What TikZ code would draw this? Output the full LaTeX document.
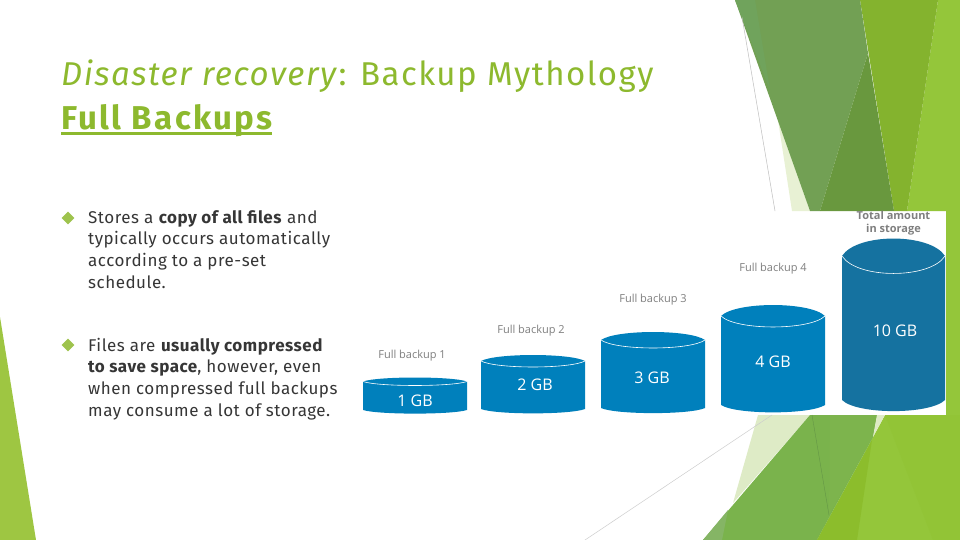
\documentclass[tikz,border=0pt]{standalone}
\usepackage{fontspec}
\setmainfont[LetterSpace=3]{Fira Sans}
\newfontfamily\titlefont[LetterSpace=4.5]{Fira Sans}
\newfontfamily\titleboldfont[LetterSpace=7.2]{Fira Sans}
\newfontfamily\labelfont{Open Sans}
\usetikzlibrary{shapes.geometric}
\definecolor{titlegreen}{HTML}{8DB92E}
\definecolor{bodygrey}{HTML}{363636}
\definecolor{labelgrey}{HTML}{7F7F7F}
\definecolor{cylblue}{HTML}{0080BC}
\definecolor{cyldark}{HTML}{1572A0}
\tikzset{
  x=1pt,y=-1pt,
  titletext/.style={anchor=base west,inner sep=0pt,text=titlegreen,font=\titlefont\fontsize{33}{36}\selectfont},
  titlebold/.style={anchor=base west,inner sep=0pt,text=titlegreen,font=\titleboldfont\bfseries\fontsize{33}{36}\selectfont},
  bodytext/.style={anchor=base west,inner sep=0pt,text=bodygrey,font=\fontsize{17}{20}\selectfont},
  backuplabel/.style={inner sep=0pt,text=labelgrey,font=\labelfont\fontsize{11}{13}\selectfont},
  totallabel/.style={inner sep=0pt,text=labelgrey,align=center,font=\labelfont\bfseries\fontsize{11}{13}\selectfont},
  gblabel/.style={inner sep=0pt,text=white,font=\labelfont\fontsize{16}{18}\selectfont},
  bulletmark/.style={diamond,fill=titlegreen!85!white,draw=none,minimum width=13pt,minimum height=13pt,inner sep=0pt},
}
% left x, right x, ellipse centre y, ellipse half height, bottom rim y, colour
\newcommand{\backupcyl}[6]{%
  \fill[#6] (#1,#3) .. controls (#1+15,{#3-1.33*#4}) and (#2-15,{#3-1.33*#4}) .. (#2,#3)
    -- (#2,#5) .. controls (#2-15,414.8) and (#1+15,414.8) .. (#1,#5) -- cycle;
  \draw[white,line width=.6pt] (#1,#3) .. controls (#1+15,{#3+1.33*#4}) and (#2-15,{#3+1.33*#4}) .. (#2,#3);
}
\begin{document}
\begin{tikzpicture}
\useasboundingbox (0,0) rectangle (960,540);
\fill[white] (0,0) rectangle (960,540);
% left facet
\fill[fill={rgb,255:red,158;green,198;blue,66}] (0,317) -- (36,540) -- (0,540) -- cycle;
% upper right facets
\fill[fill={rgb,255:red,148;green,198;blue,58}] (938,0) -- (960,0) -- (960,540) -- (817,540) -- (885,415) -- (946,415) -- (946,211) -- (907,211) -- cycle;
\fill[fill={rgb,255:red,132;green,179;blue,46}] (860,0) -- (938,0) -- (907,211) -- (894,211) -- cycle;
\fill[fill={rgb,255:red,232;green,241;blue,212}] (778,120) -- (810,211) -- (792,211) -- cycle;
\fill[fill={rgb,255:red,114;green,160;blue,84}] (735,0) -- (860,0) -- (868,53) -- (820,211) -- (810,211) -- cycle;
\fill[fill={rgb,255:red,112;green,163;blue,92}] (735,0) -- (755,0) -- (770,90) -- cycle;
\fill[fill={rgb,255:red,105;green,152;blue,62}] (868,53) -- (894,211) -- (820,211) -- cycle;
\draw[fill=none,draw={rgb,255:red,190;green,190;blue,190},line width=.5pt] (742,17) -- (775,211);
% lower right facets
\fill[fill={rgb,255:red,222;green,235;blue,198}] (758,415) -- (810,415) -- (733,503) -- cycle;
\fill[fill={rgb,255:red,122;green,179;blue,76}] (810,415) -- (877,415) -- (873,437) -- (817,540) -- (703,540) -- cycle;
\fill[fill={rgb,255:red,125;green,180;blue,77}] (830,415) -- (877,415) -- (873,437) -- (829,515) -- cycle;
\fill[fill={rgb,255:red,133;green,181;blue,101}] (728,510) -- (722,540) -- (703,540) -- cycle;
\fill[fill={rgb,255:red,222;green,235;blue,198}] (877,415) -- (885,415) -- (873,437) -- cycle;
\fill[fill={rgb,255:red,140;green,189;blue,44}] (872,440) -- (857,540) -- (817,540) -- cycle;
\fill[fill={rgb,255:red,146;green,196;blue,54}] (885,415) -- (960,415) -- (960,540) -- (933,540) -- cycle;
\draw[draw={rgb,255:red,100;green,150;blue,70},line width=.4pt] (812,415) -- (829,515);
\draw[draw={rgb,255:red,205;green,205;blue,205},line width=.5pt] (772,415) -- (585,540);
% title
\node[titletext] (title1) at (61,86) {\textit{Disaster recovery}: Backup Mythology};
\node[titlebold] (title2) at (61,130) {Full Backups};
\fill[titlegreen] (61,132.5) rectangle (272,134.8);
% bullets
\node[bulletmark] (b1) at (68,218) {};
\node[bulletmark] (b2) at (68,345) {};
% body
\node[bodytext] (l1) at (88,223) {Stores a \textbf{copy of all files} and};
\node[bodytext] (l2) at (88,244) {typically occurs automatically};
\node[bodytext] (l3) at (88,266) {according to a pre-set};
\node[bodytext] (l4) at (88,288) {schedule.};
\node[bodytext] (l5) at (88,351) {Files are \textbf{usually compressed}};
\node[bodytext] (l6) at (88,372) {\textbf{to save space}, however, even};
\node[bodytext] (l7) at (88,394) {when compressed full backups};
\node[bodytext] (l8) at (88,416) {may consume a lot of storage.};
% cylinders
\backupcyl{363}{467}{381.5}{4}{410}{cylblue}
\backupcyl{481}{585}{361}{6}{409}{cylblue}
\backupcyl{601}{705}{340}{8}{408}{cylblue}
\backupcyl{721}{825}{316}{11}{405}{cylblue}
\backupcyl{842}{945}{256}{17.5}{400}{cyldark}
% labels
\node[backuplabel] (f1) at (412,355.5) {Full backup 1};
\node[backuplabel] (f2) at (531,330.5) {Full backup 2};
\node[backuplabel] (f3) at (653,299.5) {Full backup 3};
\node[backuplabel] (f4) at (773,268.5) {Full backup 4};
\node[totallabel] (tot) at (893.5,223) {Total amount\\in storage};
\node[gblabel] (g1) at (415,401) {1 GB};
\node[gblabel] (g2) at (535,385) {2 GB};
\node[gblabel] (g3) at (652,378) {3 GB};
\node[gblabel] (g4) at (773,362) {4 GB};
\node[gblabel] (g5) at (895,331) {10 GB};
\end{tikzpicture}
\end{document}
